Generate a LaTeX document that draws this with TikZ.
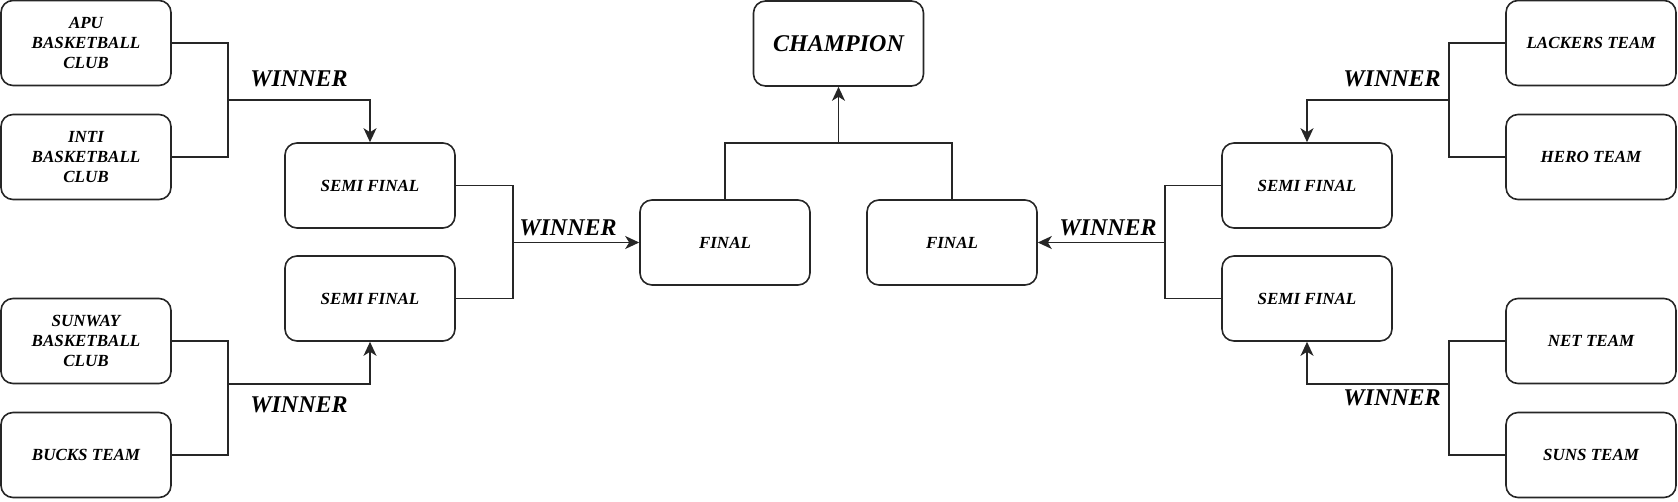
\documentclass[tikz,border=0pt]{standalone}
\usepackage{fontspec}
\setmainfont{Liberation Serif}
\usetikzlibrary{arrows.meta}

\begin{document}
\begin{tikzpicture}[x=1pt,y=-1pt,line width=1.6pt,draw=black!85,
  box/.style={draw,rounded corners=12pt,minimum width=170pt,minimum height=85pt,align=center,font=\fontsize{17}{20}\selectfont\bfseries\itshape},
  big/.style={font=\fontsize{24}{28}\selectfont\bfseries\itshape},
  win/.style={-{Stealth[length=14pt,width=13pt,inset=4pt]}}]
\useasboundingbox (0,0) rectangle (1678,501);

% left half
\node [box] (apu) at (86,43) {APU\\BASKETBALL\\CLUB};
\node [box] (inti) at (86,157) {INTI\\BASKETBALL\\CLUB};
\node [box] (sunway) at (86,341) {SUNWAY\\BASKETBALL\\CLUB};
\node [box] (bucks) at (86,455) {BUCKS TEAM};
\node [box] (semiA) at (370,185.5) {SEMI FINAL};
\node [box] (semiB) at (370,298.5) {SEMI FINAL};
\node [box] (finalA) at (725,242.5) {FINAL};

% right half
\node [box] (lackers) at (1591,43) {LACKERS TEAM};
\node [box] (hero) at (1591,157) {HERO TEAM};
\node [box] (net) at (1591,341) {NET TEAM};
\node [box] (suns) at (1591,455) {SUNS TEAM};
\node [box] (semiC) at (1307,185.5) {SEMI FINAL};
\node [box] (semiD) at (1307,298.5) {SEMI FINAL};
\node [box] (finalB) at (952,242.5) {FINAL};

\node [box,big] (champ) at (838.5,43.5) {CHAMPION};

% labels
\node [big] (wA) at (299,79) {WINNER};
\node [big] (wB) at (299,405) {WINNER};
\node [big] (wC) at (568,228) {WINNER};
\node [big] (wD) at (1392,79) {WINNER};
\node [big] (wE) at (1392,398) {WINNER};
\node [big] (wF) at (1108,228) {WINNER};

% junctions
\coordinate (jA) at (228,100);
\coordinate (jB) at (228,384);
\coordinate (jC) at (513,242.5);
\coordinate (jD) at (1449,100);
\coordinate (jE) at (1449,384);
\coordinate (jF) at (1165,242.5);
\coordinate (jG) at (838.5,143);

\draw (apu.east) -| (jA) |- (inti.east);
\draw [win] (jA) -| (semiA.north);
\draw (sunway.east) -| (jB) |- (bucks.east);
\draw [win] (jB) -| (semiB.south);
\draw (semiA.east) -| (jC) |- (semiB.east);
\draw [win] (jC) -- (finalA.west);

\draw (lackers.west) -| (jD) |- (hero.west);
\draw [win] (jD) -| (semiC.north);
\draw (net.west) -| (jE) |- (suns.west);
\draw [win] (jE) -| (semiD.south);
\draw (semiC.west) -| (jF) |- (semiD.west);
\draw [win] (jF) -- (finalB.east);

\draw (finalA.north) |- (jG) -| (finalB.north);
\draw [win] (jG) -- (champ.south);
\end{tikzpicture}
\end{document}
